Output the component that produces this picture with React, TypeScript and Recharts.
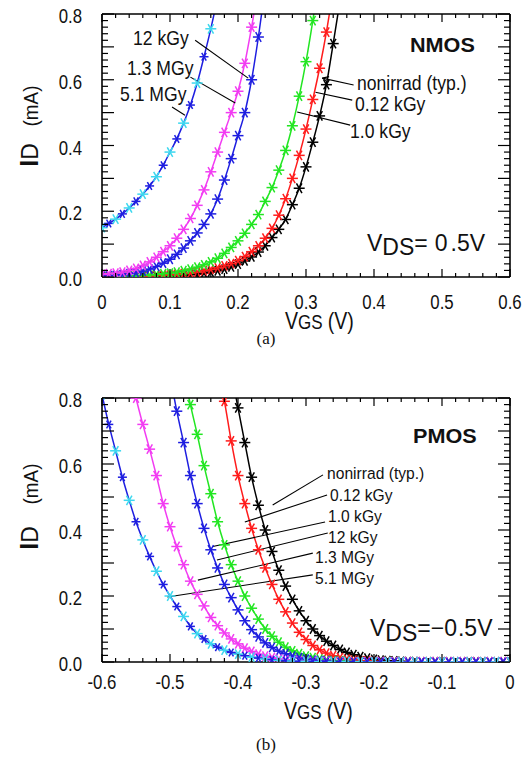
import React from 'react';
import { LineChart, Line, XAxis, YAxis, ReferenceLine } from 'recharts';

const FONT = "'Liberation Sans', Arial, Helvetica, sans-serif";

// ---------- NMOS (panel a) ----------
const nmosVgs = [
  0.0, 0.01, 0.02, 0.03, 0.04, 0.05, 0.06, 0.07, 0.08, 0.09,
  0.1, 0.11, 0.12, 0.13, 0.14, 0.15, 0.16, 0.17, 0.18, 0.19,
  0.2, 0.21, 0.22, 0.23, 0.24, 0.25, 0.26, 0.27, 0.28, 0.29,
  0.3, 0.31, 0.32, 0.33, 0.34, 0.35,
];
const nmosNonirrad = [
  0.0, 0.0, 0.0, 0.001, 0.001, 0.001, 0.001, 0.002, 0.002, 0.002,
  0.003, 0.004, 0.005, 0.007, 0.009, 0.012, 0.015, 0.019, 0.024, 0.031,
  0.039, 0.049, 0.061, 0.076, 0.095, 0.12, 0.145, 0.175, 0.22, 0.27,
  0.335, 0.41, 0.49, 0.585, 0.71, 0.84,
];
const nmos012kGy = [
  0.0, 0.001, 0.001, 0.001, 0.002, 0.002, 0.003, 0.003, 0.004, 0.005,
  0.006, 0.008, 0.01, 0.012, 0.015, 0.019, 0.023, 0.028, 0.034, 0.041,
  0.05, 0.062, 0.077, 0.095, 0.118, 0.148, 0.188, 0.238, 0.3, 0.37,
  0.45, 0.54, 0.635, 0.745, 0.875,
];
const nmos10kGy = [
  0.001, 0.001, 0.002, 0.002, 0.003, 0.004, 0.005, 0.006, 0.008, 0.01,
  0.012, 0.015, 0.019, 0.024, 0.03, 0.037, 0.046, 0.057, 0.072, 0.09,
  0.11, 0.133, 0.16, 0.19, 0.23, 0.272, 0.325, 0.385, 0.46, 0.55,
  0.655, 0.78, 0.92,
];
const nmos12kGy = [
  0.003, 0.004, 0.005, 0.007, 0.01, 0.013, 0.018, 0.024, 0.032, 0.042,
  0.054, 0.069, 0.088, 0.11, 0.134, 0.16, 0.192, 0.237, 0.295, 0.36,
  0.43, 0.5, 0.6, 0.73, 0.88,
];
const nmos13MGy = [
  0.008, 0.01, 0.012, 0.015, 0.02, 0.026, 0.035, 0.046, 0.06, 0.077,
  0.095, 0.118, 0.145, 0.178, 0.218, 0.265, 0.32, 0.38, 0.44, 0.5,
  0.565, 0.65, 0.76, 0.88,
];
const nmos51MGy = [
  0.15, 0.163, 0.176, 0.192, 0.21, 0.23, 0.252, 0.277, 0.305, 0.34,
  0.38, 0.42, 0.468, 0.523, 0.59, 0.67, 0.755, 0.85,
];

// ---------- PMOS (panel b) ----------
const pmosVgs = [
  -0.6, -0.59, -0.58, -0.57, -0.56, -0.55, -0.54, -0.53, -0.52, -0.51,
  -0.5, -0.49, -0.48, -0.47, -0.46, -0.45, -0.44, -0.43, -0.42, -0.41,
  -0.4, -0.39, -0.38, -0.37, -0.36, -0.35, -0.34, -0.33, -0.32, -0.31,
  -0.3, -0.29, -0.28, -0.27, -0.26, -0.25, -0.24, -0.23, -0.22, -0.21,
  -0.2, -0.19, -0.18, -0.17, -0.16, -0.15, -0.14, -0.13, -0.12, -0.11,
  -0.1, -0.09, -0.08, -0.07, -0.06, -0.05, -0.04, -0.03, -0.02, -0.01,
  0.0,
];
// each list ends at VGS = 0
const pmosNonirrad = [
  0.88, 0.77, 0.665, 0.56, 0.475, 0.4, 0.335, 0.278, 0.23, 0.19,
  0.155, 0.125, 0.1, 0.08, 0.063, 0.05, 0.038, 0.029, 0.022, 0.016,
  0.012, 0.008, 0.006, 0.004, 0.003, 0.002, 0.001, 0.001,
  0, 0, 0, 0, 0, 0, 0, 0, 0, 0, 0, 0, 0, 0,
];
const pmos012kGy = [
  0.88, 0.79, 0.67, 0.565, 0.48, 0.405, 0.34, 0.285, 0.235, 0.19,
  0.152, 0.118, 0.09, 0.068, 0.05, 0.037, 0.027, 0.019, 0.013, 0.009,
  0.006, 0.004, 0.003, 0.002, 0.001, 0.001,
  0, 0, 0, 0, 0, 0, 0, 0, 0, 0, 0, 0, 0, 0, 0, 0, 0, 0,
];
const pmos10kGy = [
  0.88, 0.78, 0.69, 0.595, 0.51, 0.425, 0.355, 0.295, 0.245, 0.2,
  0.163, 0.13, 0.1, 0.078, 0.06, 0.045, 0.034, 0.025, 0.018, 0.013,
  0.009, 0.006, 0.004, 0.003, 0.002, 0.001, 0.001,
  0, 0, 0, 0, 0, 0, 0, 0, 0, 0, 0, 0, 0, 0, 0, 0, 0, 0, 0, 0, 0, 0,
];
const pmos12kGy = [
  0.87, 0.76, 0.665, 0.565, 0.48, 0.405, 0.34, 0.285, 0.235, 0.195,
  0.158, 0.125, 0.098, 0.076, 0.058, 0.044, 0.033, 0.025, 0.018, 0.013,
  0.009, 0.006, 0.004, 0.003, 0.002, 0.001, 0.001,
  0, 0, 0, 0, 0, 0, 0, 0, 0, 0, 0, 0, 0, 0, 0, 0, 0, 0, 0, 0, 0, 0, 0, 0,
];
const pmos13MGy = [
  0.89, 0.8, 0.72, 0.645, 0.565, 0.48, 0.41, 0.35, 0.295, 0.245,
  0.205, 0.17, 0.135, 0.11, 0.088, 0.07, 0.055, 0.042, 0.032, 0.024,
  0.018, 0.013, 0.009, 0.006, 0.004, 0.003, 0.002, 0.001, 0.001, 0.001,
  0, 0, 0, 0, 0, 0, 0, 0, 0, 0, 0, 0, 0, 0, 0, 0, 0, 0, 0, 0, 0, 0, 0, 0, 0, 0, 0,
];
const pmos51MGy = [
  0.81, 0.72, 0.64, 0.56, 0.49, 0.425, 0.37, 0.32, 0.275, 0.235,
  0.2, 0.168, 0.138, 0.108, 0.086, 0.07, 0.055, 0.045, 0.036, 0.029,
  0.024, 0.019, 0.015, 0.012, 0.009, 0.007, 0.005, 0.004, 0.003, 0.002,
  0.002, 0.001, 0.001, 0.001, 0.001, 0.001, 0.001, 0.001, 0.001,
  0, 0, 0, 0, 0, 0, 0, 0, 0, 0, 0, 0, 0, 0, 0, 0, 0, 0, 0, 0, 0, 0,
];

// ---------- axes ----------
const nmosXMajor = [0, 0.1, 0.2, 0.3, 0.4, 0.5, 0.6];
const nmosXLabels = ['0', '0.1', '0.2', '0.3', '0.4', '0.5', '0.6'];
const pmosXMajor = [-0.6, -0.5, -0.4, -0.3, -0.2, -0.1, 0];
const pmosXLabels = ['-0.6', '-0.5', '-0.4', '-0.3', '-0.2', '-0.1', '0'];
const yMajor = [0, 0.2, 0.4, 0.6, 0.8];
const yLabels = ['0.0', '0.2', '0.4', '0.6', '0.8'];

const BLACK = '#000000';
const RED = '#ff1c1c';
const GREEN = '#22e622';
const BLUE = '#1e1ee0';
const MAGENTA = '#f23cf2';
const CYAN = '#3cd8ef';

type Series = { name: string; color: string; values: number[]; alt?: string };

const nmosSeries: Series[] = [
  { name: 'nonirrad (typ.)', color: BLACK, values: nmosNonirrad },
  { name: '0.12 kGy', color: RED, values: nmos012kGy },
  { name: '1.0 kGy', color: GREEN, values: nmos10kGy },
  { name: '12 kGy', color: BLUE, values: nmos12kGy },
  { name: '1.3 MGy', color: MAGENTA, values: nmos13MGy },
  { name: '5.1 MGy', color: BLUE, values: nmos51MGy, alt: CYAN },
];
const pmosSeries: Series[] = [
  { name: 'nonirrad (typ.)', color: BLACK, values: pmosNonirrad },
  { name: '0.12 kGy', color: RED, values: pmos012kGy },
  { name: '1.0 kGy', color: GREEN, values: pmos10kGy },
  { name: '12 kGy', color: BLUE, values: pmos12kGy },
  { name: '1.3 MGy', color: MAGENTA, values: pmos13MGy },
  { name: '5.1 MGy', color: BLUE, values: pmos51MGy, alt: CYAN },
];

// leader lines (annotation), in data units
const nmosLeaders = [
  [[0.137, 0.72], [0.215, 0.605]],
  [[0.13, 0.608], [0.196, 0.529]],
  [[0.103, 0.517], [0.122, 0.492]],
  [[0.37, 0.584], [0.324, 0.605]],
  [[0.334, 0.6095], [0.324, 0.605]],
  [[0.332, 0.592], [0.324, 0.605]],
  [[0.368, 0.538], [0.314, 0.562]],
  [[0.365, 0.462], [0.287, 0.502]],
];
const pmosLeaders = [
  [[-0.275, 0.567], [-0.349, 0.476]],
  [[-0.269, 0.506], [-0.39, 0.424]],
  [[-0.272, 0.424], [-0.437, 0.35]],
  [[-0.268, 0.391], [-0.431, 0.309]],
  [[-0.29, 0.33], [-0.459, 0.248]],
  [[-0.29, 0.264], [-0.504, 0.197]],
];

const toPointsStart = (xs: number[], ys: number[]) => ys.map((y, i) => ({ x: xs[i], y }));
const toPointsEnd = (xs: number[], ys: number[]) =>
  ys.map((y, i) => ({ x: xs[xs.length - ys.length + i], y }));

const minorTicks = (lo: number, hi: number) =>
  Array.from({ length: Math.round((hi - lo) / 0.02) + 1 }, (_, i) => +(lo + i * 0.02).toFixed(2));
const isMult = (v: number, step: number) => Math.abs(v / step - Math.round(v / step)) < 1e-6;
const findIdx = (arr: number[], v: number) => arr.findIndex((m) => Math.abs(m - v) < 1e-6);

function Asterisk({ cx, cy, r, color }: { cx: number; cy: number; r: number; color: string }) {
  const a = r * Math.cos(Math.PI / 3);
  const b = r * Math.sin(Math.PI / 3);
  return (
    <g stroke={color} strokeWidth={1.5} fill="none">
      <line x1={cx - r} y1={cy} x2={cx + r} y2={cy} />
      <line x1={cx - a} y1={cy - b} x2={cx + a} y2={cy + b} />
      <line x1={cx - a} y1={cy + b} x2={cx + a} y2={cy - b} />
    </g>
  );
}

const dotFor = (s: Series) => (props: any) => {
  const { cx, cy, index } = props;
  if (cx == null || cy == null || isNaN(cx) || isNaN(cy)) return <g key={`e${index}`} />;
  const useAlt = !!s.alt && index % 2 === 0;
  return (
    <Asterisk
      key={`d${index}`}
      cx={cx}
      cy={cy}
      r={useAlt ? 5.5 : s.alt ? 4.5 : 5.5}
      color={useAlt ? (s.alt as string) : s.color}
    />
  );
};

const TICK_TEXT = { fontFamily: FONT, fontSize: 21, fill: '#111' };

type PanelProps = {
  top: number;
  plotTop: number;
  plotBottom: number;
  xDomain: [number, number];
  xMajor: number[];
  xLabels: string[];
  xLabelBaseline: number;
  series: Series[];
  xs: number[];
  alignEnd: boolean;
  leaders: number[][][];
};

const PL = 102;
const PR = 510;
const W = 532;
const H = 330;

function Panel(p: PanelProps) {
  const xTicks = minorTicks(p.xDomain[0], p.xDomain[1]);
  const yTicks = minorTicks(0, 0.8);
  // axes take 1px each, so margins are reduced by 1
  const margin = { top: p.plotTop - 1, right: W - PR - 1, bottom: H - p.plotBottom - 1, left: PL - 1 };

  const bottomTick = (props: any) => {
    const x = props.x;
    const v = props.payload.value;
    const major = isMult(v, 0.1);
    const idx = findIdx(p.xMajor, v);
    return (
      <g>
        <line x1={x} x2={x} y1={p.plotBottom} y2={p.plotBottom - (major ? 8 : 4)} stroke="#000" strokeWidth={1.2} />
        {idx >= 0 && (
          <text
            transform={`translate(${x},${p.xLabelBaseline}) scale(0.8,1)`}
            textAnchor="middle"
            {...TICK_TEXT}
          >
            {p.xLabels[idx]}
          </text>
        )}
      </g>
    );
  };
  const topTick = (props: any) => {
    const x = props.x;
    const major = isMult(props.payload.value, 0.1);
    return <line x1={x} x2={x} y1={p.plotTop} y2={p.plotTop + (major ? 8 : 4)} stroke="#000" strokeWidth={1.2} />;
  };
  const leftTick = (props: any) => {
    const y = props.y;
    const v = props.payload.value;
    const major = isMult(v, 0.1);
    const idx = findIdx(yMajor, v);
    return (
      <g>
        <line x1={PL} x2={PL + (major ? 12 : 6)} y1={y} y2={y} stroke="#000" strokeWidth={1.2} />
        {idx >= 0 && (
          <text transform={`translate(${PL - 20},${y + 9}) scale(0.8,1)`} textAnchor="end" {...TICK_TEXT}>
            {yLabels[idx]}
          </text>
        )}
      </g>
    );
  };
  const rightTick = (props: any) => {
    const y = props.y;
    const major = isMult(props.payload.value, 0.1);
    return <line x1={PR} x2={PR - (major ? 12 : 6)} y1={y} y2={y} stroke="#000" strokeWidth={1.2} />;
  };

  const axisLine = { stroke: '#000', strokeWidth: 1.6 };

  return (
    <div style={{ position: 'absolute', left: 0, top: p.top }}>
      <LineChart width={W} height={H} margin={margin}>
        <XAxis
          type="number"
          dataKey="x"
          domain={p.xDomain}
          ticks={xTicks}
          interval={0}
          allowDataOverflow
          height={1}
          axisLine={axisLine}
          tickLine={false}
          tick={bottomTick}
        />
        <XAxis
          xAxisId="top"
          orientation="top"
          type="number"
          dataKey="x"
          domain={p.xDomain}
          ticks={xTicks}
          interval={0}
          allowDataOverflow
          height={1}
          axisLine={axisLine}
          tickLine={false}
          tick={topTick}
        />
        <YAxis
          type="number"
          domain={[0, 0.8]}
          ticks={yTicks}
          interval={0}
          allowDataOverflow
          width={1}
          axisLine={axisLine}
          tickLine={false}
          tick={leftTick}
        />
        <YAxis
          yAxisId="right"
          orientation="right"
          type="number"
          domain={[0, 0.8]}
          ticks={yTicks}
          interval={0}
          allowDataOverflow
          width={1}
          axisLine={axisLine}
          tickLine={false}
          tick={rightTick}
        />
        {p.series.map((s) => (
          <Line
            key={s.name}
            data={p.alignEnd ? toPointsEnd(p.xs, s.values) : toPointsStart(p.xs, s.values)}
            dataKey="y"
            type="monotone"
            stroke={s.color}
            strokeWidth={1.5}
            dot={dotFor(s)}
            activeDot={false}
            isAnimationActive={false}
          />
        ))}
        {p.leaders.map((seg, i) => (
          <ReferenceLine
            key={`ld${i}`}
            segment={[
              { x: seg[0][0], y: seg[0][1] },
              { x: seg[1][0], y: seg[1][1] },
            ]}
            stroke="#000"
            strokeWidth={1.1}
            ifOverflow="visible"
          />
        ))}
      </LineChart>
    </div>
  );
}

function Txt({
  x,
  y,
  size = 20,
  sx = 0.88,
  weight = 'normal',
  anchor = 'start',
  children,
}: any) {
  return (
    <text
      transform={`translate(${x},${y}) scale(${sx},1)`}
      fontFamily={FONT}
      fontSize={size}
      fontWeight={weight}
      textAnchor={anchor}
      fill="#111"
    >
      {children}
    </text>
  );
}

function Overlay() {
  return (
    <svg
      width={532}
      height={762}
      style={{ position: 'absolute', left: 0, top: 0, pointerEvents: 'none' }}
    >
      {/* panel (a) */}
      <Txt x={133} y={45}>12 kGy</Txt>
      <Txt x={127} y={75}>1.3 MGy</Txt>
      <Txt x={120} y={101}>5.1 MGy</Txt>
      <Txt x={410} y={52} size={21} sx={1.03} weight="bold">NMOS</Txt>
      <Txt x={357} y={90}>nonirrad (typ.)</Txt>
      <Txt x={355} y={111}>0.12 kGy</Txt>
      <Txt x={350} y={138}>1.0 kGy</Txt>
      <text x={367} y={251} fontFamily={FONT} fontSize={23} fill="#111">
        V<tspan dy={4}>DS</tspan>
        <tspan dy={-4}>=</tspan>
        <tspan dx={7}>0</tspan>
        <tspan dx={3}>.5V</tspan>
      </text>
      <text transform="translate(38,155) rotate(-90)" textAnchor="middle" fontFamily={FONT} fill="#111">
        <tspan fontWeight="bold" fontSize={25}>I</tspan>
        <tspan fontSize={23}>D</tspan>
      </text>
      <text transform="translate(38,106) rotate(-90) scale(0.9,1)" textAnchor="middle" fontFamily={FONT} fontSize={21} fill="#111">
        (mA)
      </text>
      <text transform="translate(285,329) scale(0.85,1)" fontFamily={FONT} fontSize={23} fill="#111">
        V<tspan fontSize={20}>GS</tspan>
        <tspan dx={6}>(V)</tspan>
      </text>
      <text x={266} y={344} textAnchor="middle" fontFamily="'Liberation Serif', 'Times New Roman', serif" fontSize={17} fill="#111">
        (a)
      </text>

      {/* panel (b) */}
      <Txt x={413} y={443} size={21} sx={1.03} weight="bold">PMOS</Txt>
      <Txt x={327} y={479} size={17} sx={0.92}>nonirrad (typ.)</Txt>
      <Txt x={330} y={501} size={17} sx={0.92}>0.12 kGy</Txt>
      <Txt x={328} y={522} size={17} sx={0.92}>1.0 kGy</Txt>
      <Txt x={328} y={543} size={17} sx={0.92}>12 kGy</Txt>
      <Txt x={315} y={563} size={17} sx={0.92}>1.3 MGy</Txt>
      <Txt x={315} y={584} size={17} sx={0.92}>5.1 MGy</Txt>
      <text x={370} y={636} fontFamily={FONT} fontSize={23} fill="#111">
        V<tspan dy={5}>DS</tspan>
        <tspan dy={-5}>=−0</tspan>
        <tspan dx={1}>.5V</tspan>
      </text>
      <text transform="translate(38,538) rotate(-90)" textAnchor="middle" fontFamily={FONT} fill="#111">
        <tspan fontWeight="bold" fontSize={25}>I</tspan>
        <tspan fontSize={23}>D</tspan>
      </text>
      <text transform="translate(38,484) rotate(-90) scale(0.9,1)" textAnchor="middle" fontFamily={FONT} fontSize={21} fill="#111">
        (mA)
      </text>
      <text transform="translate(284,719) scale(0.85,1)" fontFamily={FONT} fontSize={23} fill="#111">
        V<tspan fontSize={20}>GS</tspan>
        <tspan dx={6}>(V)</tspan>
      </text>
      <text x={266} y={750} textAnchor="middle" fontFamily="'Liberation Serif', 'Times New Roman', serif" fontSize={17} fill="#111">
        (b)
      </text>
    </svg>
  );
}

export default function App() {
  return (
    <div style={{ position: 'absolute', left: 0, top: 0, width: 532, height: 762, background: '#fff', overflow: 'hidden' }}>
      <Panel
        top={0}
        plotTop={14}
        plotBottom={277}
        xDomain={[0, 0.6]}
        xMajor={nmosXMajor}
        xLabels={nmosXLabels}
        xLabelBaseline={309}
        series={nmosSeries}
        xs={nmosVgs}
        alignEnd={false}
        leaders={nmosLeaders}
      />
      <Panel
        top={384}
        plotTop={14}
        plotBottom={278}
        xDomain={[-0.6, 0]}
        xMajor={pmosXMajor}
        xLabels={pmosXLabels}
        xLabelBaseline={305}
        series={pmosSeries}
        xs={pmosVgs}
        alignEnd={true}
        leaders={pmosLeaders}
      />
      <Overlay />
    </div>
  );
}
